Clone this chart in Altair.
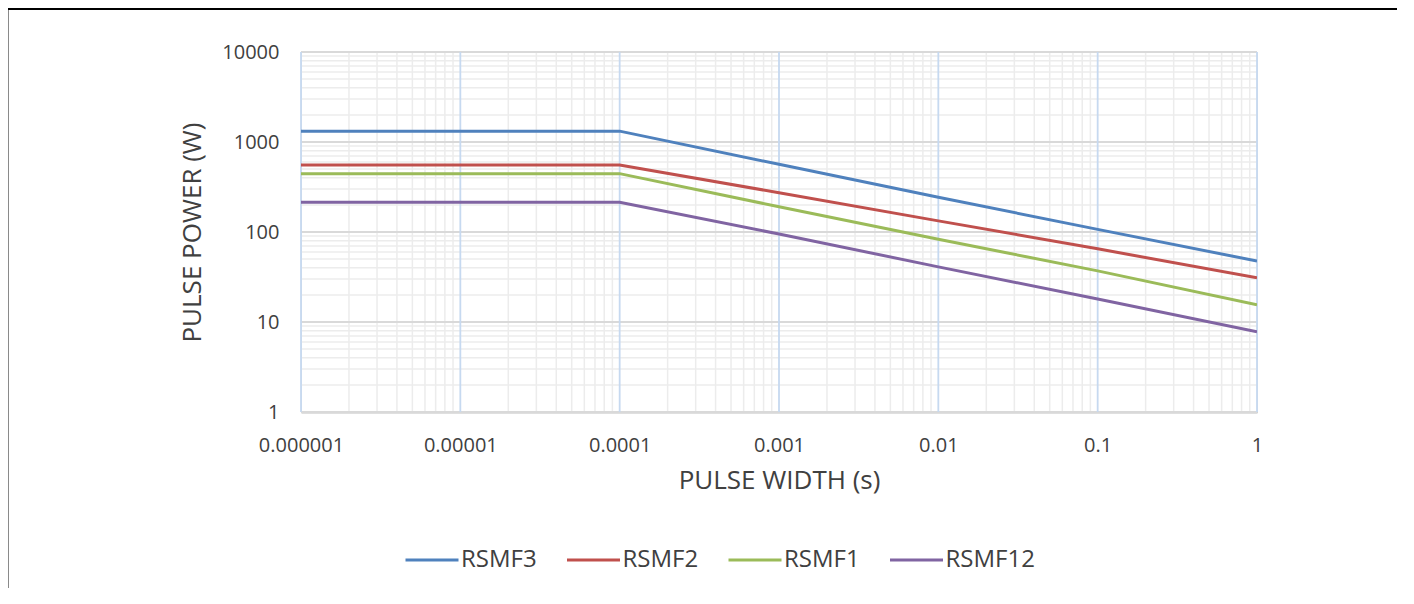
import altair as alt
import pandas as pd

# ---- data ----
pulse_width = [0.000001, 0.0001, 0.001, 0.01, 0.1, 1]
rsmf3 = [1320, 1320, 565, 243, 107, 47.6]
rsmf2 = [555, 555, 273, 133, 65, 31]
rsmf1 = [445, 445, 191, 83, 37, 15.5]
rsmf12 = [214, 214, 95, 41, 18, 7.8]

series_names = ["RSMF3", "RSMF2", "RSMF1", "RSMF12"]
series_colors = ["#4F81BD", "#C0504D", "#9BBB59", "#8064A2"]

x_major = [0.000001, 0.00001, 0.0001, 0.001, 0.01, 0.1, 1]
y_major = [1, 10, 100, 1000, 10000]
x_minor = [k * d for d in [0.000001, 0.00001, 0.0001, 0.001, 0.01, 0.1] for k in range(2, 10)]
y_minor = [k * d for d in [1, 10, 100, 1000] for k in range(2, 10)]

rows = []
for name, vals in zip(series_names, [rsmf3, rsmf2, rsmf1, rsmf12]):
    for xv, yv in zip(pulse_width, vals):
        rows.append({"width": xv, "power": yv, "series": name})
df = pd.DataFrame(rows)

W, H = 956, 360
PL, PT = 293, 44
FONT = "Open Sans"
TXT = "#404040"

xscale = alt.Scale(type="log", domain=[0.000001, 1], nice=False)
yscale = alt.Scale(type="log", domain=[1, 10000], nice=False)

xaxis = alt.Axis(values=x_major, labelExpr="format(datum.value, '.6~f')",
                 grid=False, ticks=False, domain=True, domainColor="#bfbfbf",
                 domainWidth=2, labelFont=FONT, labelFontSize=20, labelColor=TXT,
                 labelPadding=23, labelFlush=False, labelOverlap=False,
                 title="PULSE WIDTH (s)", titleFont=FONT, titleFontSize=26,
                 titleFontWeight="normal", titleColor=TXT, titlePadding=12)
yaxis = alt.Axis(values=y_major, format="d", grid=False, ticks=False, domain=False,
                 labelFont=FONT, labelFontSize=20, labelColor=TXT, labelPadding=22,
                 labelOverlap=False,
                 title="PULSE POWER (W)", titleFont=FONT, titleFontSize=26,
                 titleFontWeight="normal", titleColor=TXT, titlePadding=16)

grid_x_minor = alt.Chart(pd.DataFrame({"v": x_minor})).mark_rule(
    color="#ececec", strokeWidth=1.5).encode(x=alt.X("v:Q", scale=xscale, axis=xaxis))
grid_y_minor = alt.Chart(pd.DataFrame({"v": y_minor})).mark_rule(
    color="#ececec", strokeWidth=1.5).encode(y=alt.Y("v:Q", scale=yscale, axis=yaxis))
grid_y_major = alt.Chart(pd.DataFrame({"v": y_major})).mark_rule(
    color="#d9d9d9", strokeWidth=1.8).encode(y=alt.Y("v:Q", scale=yscale, axis=yaxis))
grid_x_major = alt.Chart(pd.DataFrame({"v": x_major})).mark_rule(
    color="#c6d9f0", strokeWidth=1.8).encode(x=alt.X("v:Q", scale=xscale, axis=xaxis))

lines = alt.Chart(df).mark_line(strokeWidth=3, clip=True).encode(
    x=alt.X("width:Q", scale=xscale, axis=xaxis),
    y=alt.Y("power:Q", scale=yscale, axis=yaxis),
    color=alt.Color("series:N", sort=series_names,
                    scale=alt.Scale(domain=series_names, range=series_colors),
                    legend=alt.Legend(title=None, orient="none", legendX=103, legendY=480,
                                      direction="horizontal", columns=4, gridAlign="all",
                                      columnPadding=9.5, symbolType="stroke", symbolSize=2809,
                                      symbolStrokeWidth=3, labelFont=FONT, labelFontSize=24,
                                      labelColor=TXT, labelOffset=1, padding=0)),
    order=alt.Order("width:Q"),
)

frame_top = alt.Chart(pd.DataFrame({"a": [0]})).mark_rule(color="#000000", strokeWidth=2).encode(
    x=alt.value(-PL), x2=alt.value(1105), y=alt.value(-43))
frame_left = alt.Chart(pd.DataFrame({"a": [0]})).mark_rule(color="#8a8a8a", strokeWidth=1.5).encode(
    x=alt.value(-PL + 0.25), y=alt.value(-42), y2=alt.value(560))

chart = alt.layer(grid_x_minor, grid_y_minor, grid_y_major, grid_x_major, lines,
                  frame_top, frame_left).properties(
    width=W, height=H,
    autosize=alt.AutoSizeParams(type="none"),
    padding={"left": PL, "top": PT, "right": 140, "bottom": 176},
).configure_view(stroke=None).configure(background="white")

chart.save("out.html", embed_options={"renderer": "svg", "actions": False})
